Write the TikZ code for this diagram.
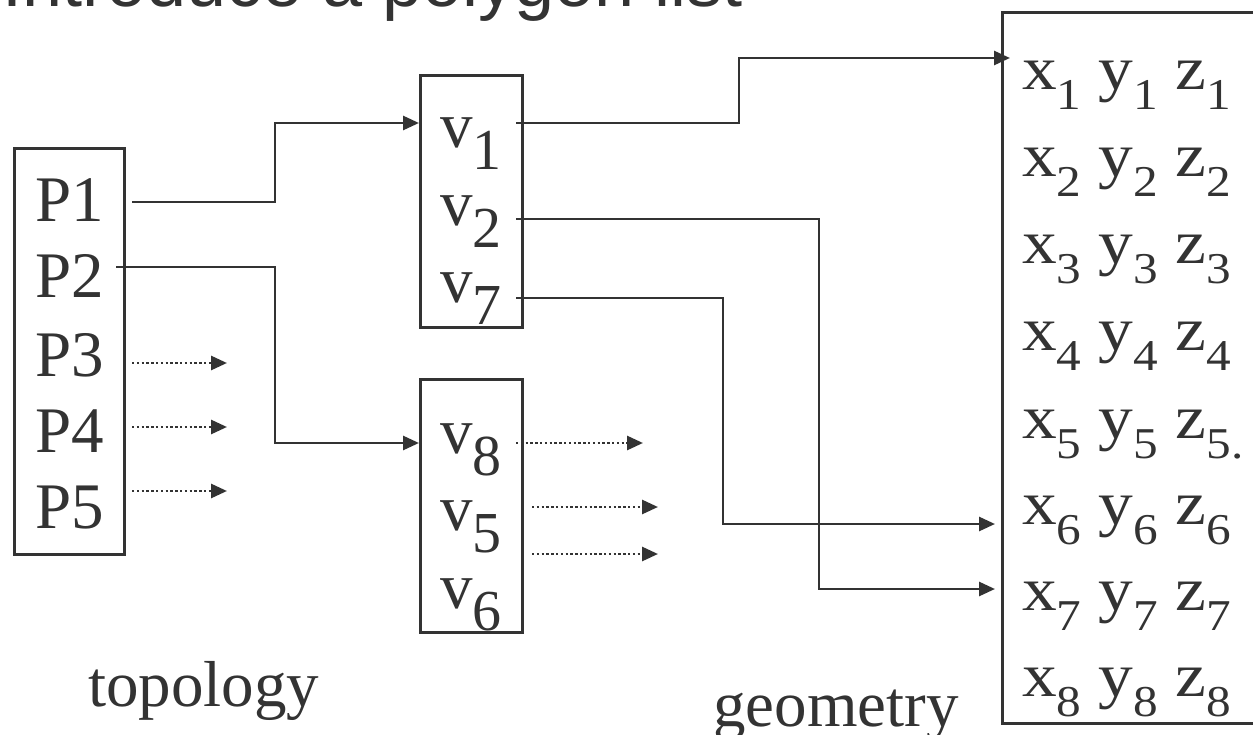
\documentclass[tikz,border=0pt]{standalone}
\usepackage{fontspec}
\setmainfont{Liberation Serif}
\newfontfamily\titlefont{Liberation Sans}
\newfontfamily\geomfont[FakeStretch=1.12]{Liberation Serif}
\usetikzlibrary{arrows.meta}

\definecolor{ink}{HTML}{333333}

% vertex label with a large lowered index
\newcommand\vlab[1]{v\raisebox{-22pt}{\fontsize{58}{60}\selectfont #1}}
% small lowered index for coordinates
\newcommand\gsub[1]{\raisebox{-20pt}{\fontsize{44}{46}\selectfont #1}}

\begin{document}
\begin{tikzpicture}[x=1pt,y=-1pt,
  box/.style={draw=ink, line width=2.8pt, inner sep=0pt, anchor=north west},
  plainlink/.style={draw=ink, line width=2.8pt},
  link/.style={plainlink, -{Triangle[length=16pt,width=14pt]}},
  dotlink/.style={draw=ink, line width=2.8pt, dash pattern=on 2.4pt off 2.4pt,
                  -{Triangle[length=16pt,width=14pt]}},
  lbl/.style={inner sep=0pt, anchor=base west, text=ink,
              font=\fontsize{65}{78}\selectfont},
  glbl/.style={inner sep=0pt, anchor=base west, text=ink,
              font=\geomfont\fontsize{62}{70}\selectfont},
]
\useasboundingbox (0,0) rectangle (1253,735);
\clip (0,0) rectangle (1253,735);

% heading
\node[inner sep=0pt, anchor=base west, text=ink,
      font=\titlefont\fontsize{72}{80}\selectfont] (title) at (2,7) {Introduce a polygon list};

% polygon list
\node[box, minimum width=110pt, minimum height=406pt] (pbox) at (13,147) {};
\node[lbl] (P1) at (35,222) {P1};
\node[lbl] (P2) at (35,298) {P2};
\node[lbl] (P3) at (35,376) {P3};
\node[lbl] (P4) at (35,452) {P4};
\node[lbl] (P5) at (35,528) {P5};

% vertex lists
\node[box, minimum width=102pt, minimum height=252pt] (vboxA) at (419,74) {};
\node[lbl] (v1) at (440,148) {\vlab{1}};
\node[lbl] (v2) at (440,226) {\vlab{2}};
\node[lbl] (v7) at (440,303) {\vlab{7}};

\node[box, minimum width=102pt, minimum height=253pt] (vboxB) at (419,378) {};
\node[lbl] (v8) at (440,453) {\vlab{8}};
\node[lbl] (v5) at (440,530) {\vlab{5}};
\node[lbl] (v6) at (440,608) {\vlab{6}};

% vertex coordinates
\node[box, minimum width=320pt, minimum height=711pt] (gbox) at (1001,11) {};
\node[glbl] (g1) at (1022,90)  {x\gsub{1} y\gsub{1} z\gsub{1}};
\node[glbl] (g2) at (1022,177) {x\gsub{2} y\gsub{2} z\gsub{2}};
\node[glbl] (g3) at (1022,264) {x\gsub{3} y\gsub{3} z\gsub{3}};
\node[glbl] (g4) at (1022,351) {x\gsub{4} y\gsub{4} z\gsub{4}};
\node[glbl] (g5) at (1022,438) {x\gsub{5} y\gsub{5} z\gsub{5.}};
\node[glbl] (g6) at (1022,524) {x\gsub{6} y\gsub{6} z\gsub{6}};
\node[glbl] (g7) at (1022,610) {x\gsub{7} y\gsub{7} z\gsub{7}};
\node[glbl] (g8) at (1022,696) {x\gsub{8} y\gsub{8} z\gsub{8}};

% captions
\node[lbl] (topo) at (88,706) {topology};
\node[lbl] (geom) at (713,726) {geometry};

% connector end points
\coordinate (p1out) at (132,202);
\coordinate (p2out) at (116,267);
\coordinate (v1in)  at (vboxA.west |- 0,123);
\coordinate (v8in)  at (vboxB.west |- 0,443);
\coordinate (v1out) at (516,123);
\coordinate (v2out) at (516,219);
\coordinate (v7out) at (516,298);
\coordinate (g1in)  at (1010,58);
\coordinate (g6in)  at (995,524);
\coordinate (g7in)  at (995,589);

% polygon -> vertex links
\draw[link] (p1out) -- (275,202) |- (v1in);
\draw[link] (p2out) -- (275,267) |- (v8in);

% vertex -> coordinate links
\draw[link] (v1out) -- (739,123) |- (g1in);
\draw[link] (v2out) -- (819,219) |- (g7in);
\draw[link] (v7out) -- (723,298) |- (g6in);

% further links, not followed
\coordinate (p3out) at (132,363); \coordinate (p3end) at (227,363);
\coordinate (p4out) at (132,427); \coordinate (p4end) at (227,427);
\coordinate (p5out) at (132,491); \coordinate (p5end) at (227,491);
\draw[dotlink] (p3out) -- (p3end);
\draw[dotlink] (p4out) -- (p4end);
\draw[dotlink] (p5out) -- (p5end);

\coordinate (v8out) at (516,443); \coordinate (v8end) at (643,443);
\coordinate (v5out) at (532,507); \coordinate (v5end) at (658,507);
\coordinate (v6out) at (532,554); \coordinate (v6end) at (658,554);
\draw[dotlink] (v8out) -- (v8end);
\draw[dotlink] (v5out) -- (v5end);
\draw[dotlink] (v6out) -- (v6end);
\end{tikzpicture}
\end{document}
